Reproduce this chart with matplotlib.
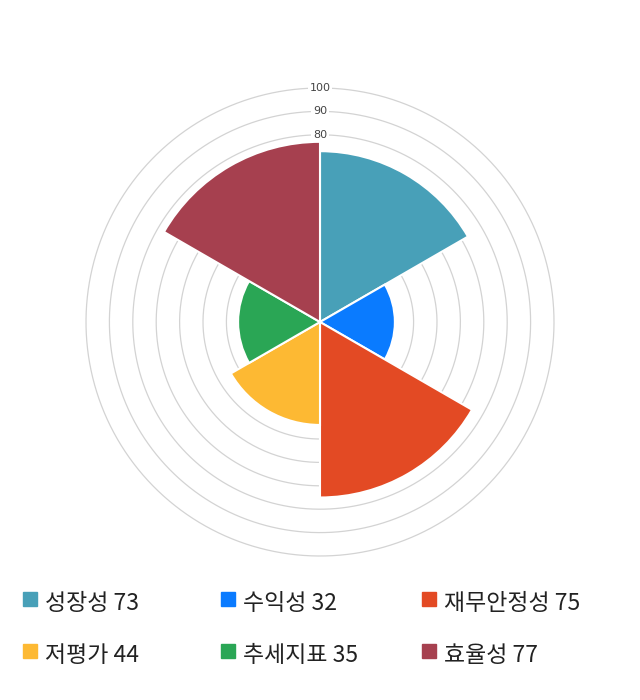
import numpy as np
import matplotlib
matplotlib.use('Agg')
import matplotlib.pyplot as plt
from matplotlib.patches import Rectangle

plt.rcParams['font.family'] = ['Noto Sans CJK KR', 'DejaVu Sans']

labels = ['성장성', '수익성', '재무안정성', '저평가', '추세지표', '효율성']
values = [73, 32, 75, 44, 35, 77]
colors = ['#48a0b8', '#0a7bff', '#e34a24', '#fdb933', '#2aa655', '#a6404f']
ticks = [0, 10, 20, 30, 40, 50, 60, 70, 80, 90, 100]

W, H = 640, 700
fig = plt.figure(figsize=(W / 100, H / 100), dpi=100)

# polar area chart, centre at (320, 322) px, radius 234 px
cx, cy, r = 320, 322, 234
ax = fig.add_axes([(cx - r) / W, (H - cy - r) / H, 2 * r / W, 2 * r / H], projection='polar')
ax.set_theta_zero_location('N')
ax.set_theta_direction(-1)
ax.set_ylim(0, 100)
ax.set_xticks([])
ax.set_yticks(ticks[1:])
ax.set_yticklabels([])
ax.grid(False)
ax.spines['polar'].set_visible(False)

th = np.linspace(0, 2 * np.pi, 400)
for t in ticks[1:]:
    ax.plot(th, np.full_like(th, t), color='#d3d3d3', lw=0.9, zorder=1, clip_on=False)
    ax.text(0, t, str(t), ha='center', va='center', fontsize=8, color='#444444',
            family=['DejaVu Sans'], zorder=1.5, clip_on=False,
            bbox=dict(facecolor='white', edgecolor='none', pad=1.2))

n = len(values)
width = 2 * np.pi / n
theta = np.arange(n) * width
ax.bar(theta, values, width=width, align='edge', color=colors,
       edgecolor='white', linewidth=1.5, zorder=2)

# legend
cols_x = [23, 221, 422]
rows_y = [599, 651]
for i, (lab, val, c) in enumerate(zip(labels, values, colors)):
    x = cols_x[i % 3]
    y = rows_y[i // 3]
    fig.patches.append(Rectangle((x / W, (H - y - 7) / H), 14 / W, 14 / H,
                                 transform=fig.transFigure, color=c))
    fig.text((x + 22) / W, (H - y - 4) / H, f'{lab} {val}', fontsize=16.5,
             color='#222222', ha='left', va='center')

fig.savefig('out.png', dpi=100, facecolor='white')
